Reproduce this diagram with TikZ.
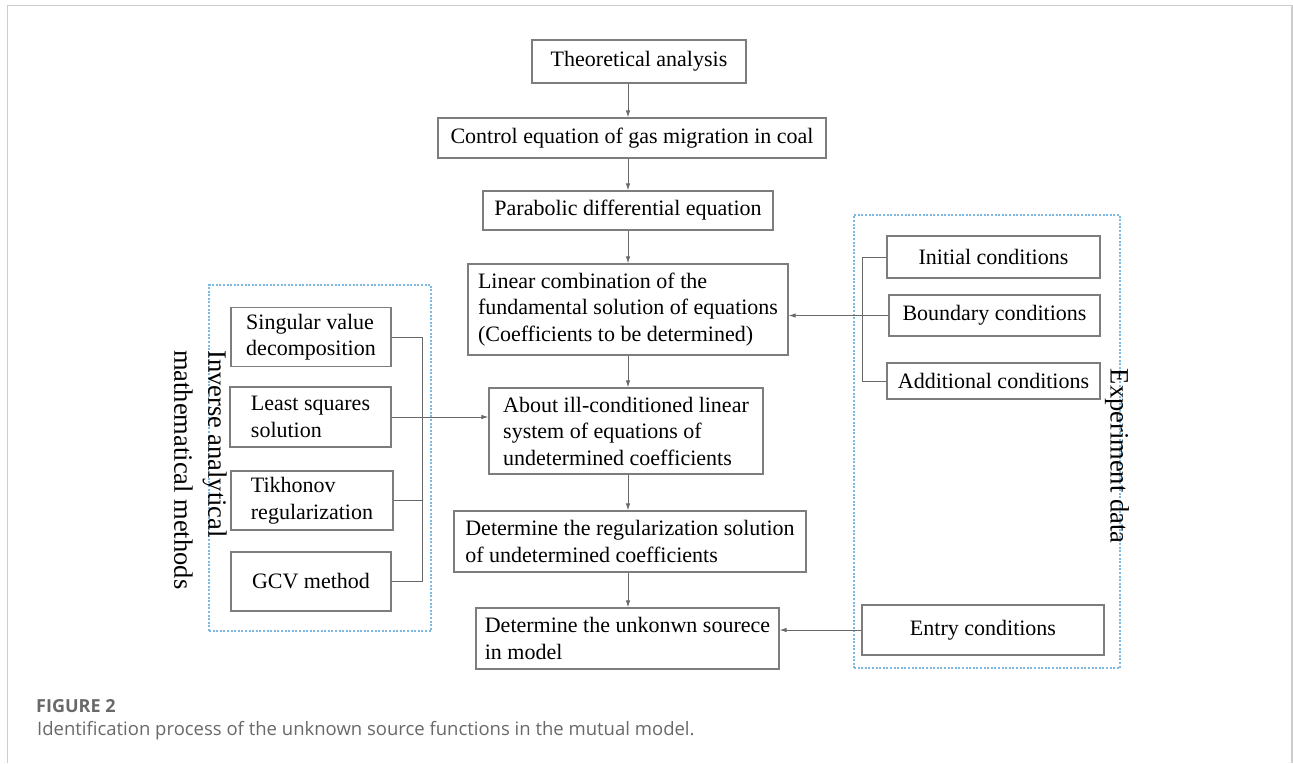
\documentclass[tikz,border=0pt]{standalone}
\usepackage{fontspec}
\setmainfont{Liberation Serif}
\newfontfamily\capfont{Open Sans}
\usepackage{tikz}
\usetikzlibrary{arrows.meta,positioning,calc}
\definecolor{boxgray}{RGB}{125,125,125}
\definecolor{linegray}{RGB}{105,105,105}
\definecolor{dotblue}{RGB}{125,185,225}
\definecolor{framegray}{RGB}{205,205,205}
\definecolor{capgray}{RGB}{105,105,105}

\begin{document}
\begin{tikzpicture}[x=1pt,y=-1pt,
  box/.style={draw=boxgray,line width=1.2pt,inner sep=6pt,align=left,
    font=\fontsize{22}{26.5}\selectfont},
  grp/.style={draw=dotblue,line width=1.2pt,dash pattern=on 2pt off 1.6pt,inner sep=0pt},
  conn/.style={draw=linegray,line width=0.9pt},
  arr/.style={conn,-{Latex[length=7pt,width=4.5pt]}},
  side/.style={rotate=-90,inner sep=0pt,align=left,font=\fontsize{26.5}{34}\selectfont}]

\useasboundingbox (0,0) rectangle (1293,763);
\draw[framegray,line width=1.5pt] (7.5,763) -- (7.5,5.5) -- (1292,5.5) -- (1292,763);

\node[grp,minimum width=222,minimum height=346] (invgrp) at (320,458) {};
\node[grp,minimum width=266,minimum height=453] (expgrp) at (987,441.5) {};

\node[box,minimum width=214,minimum height=43] (theo) at (639,61.5) {Theoretical analysis};
\node[box,minimum width=388,minimum height=40] (ctrl) at (632,138) {Control equation of gas migration in coal};
\node[box,minimum width=290,minimum height=39] (para) at (628,210.5) {Parabolic differential equation};
\node[box,minimum width=320,minimum height=91] (lin) at (628,309.5)
  {Linear combination of the\\fundamental solution of equations\\(Coefficients to be determined)};
\node[box,minimum width=274,minimum height=86] (ill) at (626,431)
  {About ill-conditioned linear\\system of equations of\\undetermined coefficients};
\node[box,minimum width=352,minimum height=61] (reg) at (630,541.5)
  {Determine the regularization solution\\of undetermined coefficients};
\node[box,minimum width=303,minimum height=61] (unk) at (627.5,638.5)
  {Determine the unkonwn sourece\\in model};

\node[box,minimum width=160,minimum height=58] (svd) at (311,337) {Singular value\\decomposition};
\node[box,minimum width=161,minimum height=60] (lsq) at (310.5,417) {Least squares\\solution};
\node[box,minimum width=162,minimum height=59] (tik) at (312,500.5) {Tikhonov\\regularization};
\node[box,minimum width=160,minimum height=59] (gcv) at (311,581.5) {GCV method};

\node[box,minimum width=213,minimum height=42] (ini) at (993.5,257) {Initial conditions};
\node[box,minimum width=211,minimum height=41] (bnd) at (994.5,315.5) {Boundary conditions};
\node[box,minimum width=213,minimum height=36] (add) at (993.5,381) {Additional conditions};
\node[box,minimum width=242,minimum height=50] (ent) at (983,630) {Entry conditions};

\node[side,anchor=north west] (invlabel) at (227,350) {Inverse analytical\\mathematical methods};
\node[side] (explabel) at (1117,456) {Experiment data};

\coordinate (spine) at (628,0);
\coordinate (lbus) at (422,0);
\coordinate (rbus) at (862,0);

\draw[arr] (theo.south -| spine) -- (ctrl.north -| spine);
\draw[arr] (ctrl.south -| spine) -- (para.north -| spine);
\draw[arr] (para.south -| spine) -- (lin.north -| spine);
\draw[arr] (lin.south -| spine) -- (ill.north -| spine);
\draw[arr] (ill.south -| spine) -- (reg.north -| spine);
\draw[arr] (reg.south -| spine) -- (unk.north -| spine);

\draw[conn] (svd.east) -- (svd.east -| lbus) -- (gcv.east -| lbus) -- (gcv.east);
\draw[conn] (tik.east) -- (tik.east -| lbus);
\draw[arr] (lsq.east) -- (lsq.east -| ill.west);

\draw[conn] (ini.west) -- (ini.west -| rbus) -- (add.west -| rbus) -- (add.west);
\draw[arr] (bnd.west) -- (bnd.west -| lin.east);
\draw[arr] (ent.west) -- (ent.west -| unk.east);

\node[anchor=base west,inner sep=0pt,text=capgray,font=\capfont\bfseries\fontsize{18}{22}\selectfont] (figlabel) at (36,712) {FIGURE 2};
\node[anchor=base west,inner sep=0pt,text=capgray,font=\capfont\fontsize{18.5}{22}\selectfont] (figcaption) at (37,735)
  {Identification process of the unknown source functions in the mutual model.};
\end{tikzpicture}
\end{document}
